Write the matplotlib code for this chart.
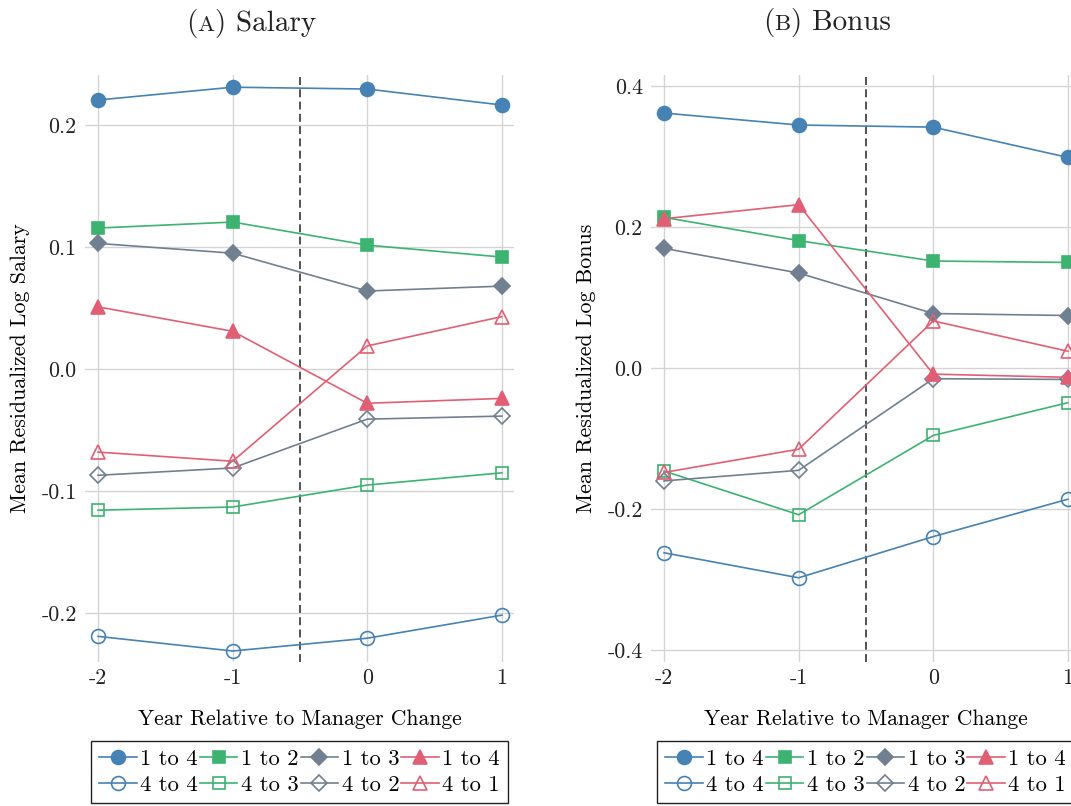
import numpy as np
import matplotlib
matplotlib.use("Agg")
import matplotlib.pyplot as plt

plt.rcParams['font.family'] = ['cmr10', 'DejaVu Serif']
plt.rcParams['axes.unicode_minus'] = False

# data
years = [-2, -1, 0, 1]
year_labels = ["-2", "-1", "0", "1"]
series = ["1 to 4", "4 to 4", "1 to 2", "4 to 3", "1 to 3", "4 to 2", "1 to 4", "4 to 1"]

salary = {
    "1 to 4 up": [0.2205, 0.231, 0.2295, 0.2164],
    "4 to 4": [-0.219, -0.231, -0.2205, -0.2016],
    "1 to 2": [0.1156, 0.1205, 0.1016, 0.0918],
    "4 to 3": [-0.1156, -0.113, -0.095, -0.085],
    "1 to 3": [0.103, 0.095, 0.064, 0.068],
    "4 to 2": [-0.087, -0.081, -0.041, -0.0385],
    "1 to 4 tri": [0.051, 0.031, -0.028, -0.024],
    "4 to 1": [-0.068, -0.0755, 0.019, 0.043],
}
bonus = {
    "1 to 4 up": [0.362, 0.345, 0.342, 0.299],
    "4 to 4": [-0.262, -0.2975, -0.239, -0.186],
    "1 to 2": [0.214, 0.181, 0.152, 0.150],
    "4 to 3": [-0.146, -0.208, -0.0955, -0.049],
    "1 to 3": [0.170, 0.135, 0.0775, 0.0747],
    "4 to 2": [-0.160, -0.145, -0.015, -0.016],
    "1 to 4 tri": [0.212, 0.232, -0.0085, -0.013],
    "4 to 1": [-0.148, -0.115, 0.067, 0.024],
}
salary_ticks = [-0.2, -0.1, 0.0, 0.1, 0.2]
salary_ticklabels = ["-0.2", "-0.1", "0.0", "0.1", "0.2"]
bonus_ticks = [-0.4, -0.2, 0.0, 0.2, 0.4]
bonus_ticklabels = ["-0.4", "-0.2", "0.0", "0.2", "0.4"]

blue, green, gray, red = "#4682B4", "#3CB371", "#708090", "#E15F74"
styles = [
    (blue, 'o', True, 10), (blue, 'o', False, 10),
    (green, 's', True, 9.2), (green, 's', False, 9.2),
    (gray, 'D', True, 8), (gray, 'D', False, 8),
    (red, '^', True, 10), (red, '^', False, 10),
]

W, H = 1071, 806
fig = plt.figure(figsize=(W / 100, H / 100), dpi=100)

def px_axes(x0, y0, x1, y1):
    return fig.add_axes([x0 / W, 1 - y1 / H, (x1 - x0) / W, (y1 - y0) / H])

def panel(ax, data, yticks, yticklabels, ylim, ylabel):
    for key, label, (c, m, filled, ms) in zip(data.keys(), series, styles):
        ax.plot(years, data[key], color=c, lw=1.2, marker=m, ms=ms,
                mfc=c if filled else 'none', mec=c, mew=1.2, label=label)
    ax.axvline(-0.5, color='#444444', lw=1.3, ls=(0, (4.4, 2.4)), zorder=1)
    ax.set_xlim(-2.097, 1.09)
    ax.set_ylim(*ylim)
    ax.set_xticks(years)
    ax.set_xticklabels(year_labels)
    ax.set_yticks(yticks)
    ax.set_yticklabels(yticklabels)
    ax.tick_params(length=0, labelsize=15.8, colors='#222222')
    ax.tick_params(axis='x', pad=5)
    ax.tick_params(axis='y', pad=6)
    ax.grid(True, color='#d4d4d4', lw=1)
    ax.set_axisbelow(True)
    for s in ax.spines.values():
        s.set_visible(False)
    ax.set_xlabel("Year Relative to Manager Change", fontsize=15.5, labelpad=15)
    ax.set_ylabel(ylabel, fontsize=15.8, labelpad=8)
    leg = ax.legend(loc='upper center', bbox_to_anchor=(0.5, -0.134), ncol=4,
                    fontsize=16.3, frameon=True, fancybox=False, framealpha=1,
                    edgecolor='#222222', borderaxespad=0, handlelength=1.65,
                    handletextpad=0.15, columnspacing=0.1, labelspacing=0.25,
                    borderpad=0.38)
    leg.get_frame().set_linewidth(1)

ax1 = px_axes(85, 75, 514, 662)
panel(ax1, salary, salary_ticks, salary_ticklabels, (-0.24, 0.241),
      "Mean Residualized Log Salary")
ax2 = px_axes(651, 75, 1080, 662)
panel(ax2, bonus, bonus_ticks, bonus_ticklabels, (-0.417, 0.416),
      "Mean Residualized Log Bonus")

# subcaption titles with small-caps letters
renderer = fig.canvas.get_renderer()

def caption(xc, ybase, letter, rest):
    parts = [("(", 21), (letter, 16.5), (") " + rest, 21)]
    texts = [fig.text(0, 1 - ybase / H, s, fontsize=fs, va='baseline', ha='left',
                      color='#222222') for s, fs in parts]
    widths = [t.get_window_extent(renderer).width for t in texts]
    x = xc - sum(widths) / 2
    for t, w in zip(texts, widths):
        t.set_x(x / W)
        x += w

caption(251, 31, "A", "Salary")
caption(827, 30, "B", "Bonus")

fig.savefig("out.png", dpi=100)
